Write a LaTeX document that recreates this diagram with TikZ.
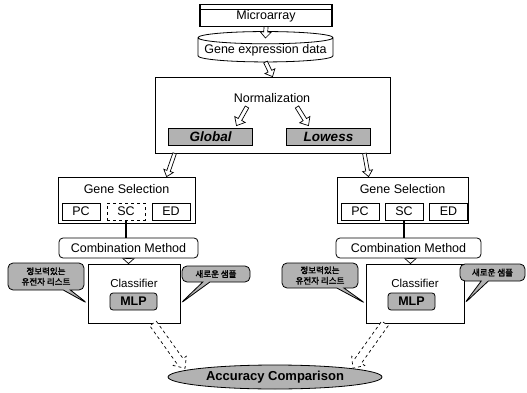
\documentclass[tikz,border=0pt]{standalone}
\usepackage{fontspec}
\setmainfont{Liberation Sans}
\newfontfamily\kofont[AutoFakeBold=2]{Noto Sans CJK KR}
\usetikzlibrary{shapes.geometric, shapes.callouts, calc, positioning}
\definecolor{shade}{RGB}{178,178,178}

\begin{document}
\begin{tikzpicture}[x=1pt, y=-1pt, line width=0.8pt,
    box/.style={draw, fill=white, inner sep=0pt,
                font=\fontsize{12.5}{14}\selectfont},
    method/.style={box, minimum width=38pt, minimum height=17pt},
    shaded/.style={box, fill=shade, minimum width=84pt, minimum height=17pt,
                   font=\fontsize{13.5}{14}\selectfont\bfseries\itshape},
    title/.style={inner sep=1pt, font=\fontsize{12.5}{14}\selectfont},
    bubble/.style={rectangle callout, rounded corners=5pt, draw, fill=shade,
                   inner sep=1pt, align=center,
                   font=\kofont\fontsize{8.5}{10.5}\selectfont\bfseries},
    harrow/.style n args={3}{draw, fill=white, line width=0.7pt,
      to path={let \p1=(\tikztostart), \p2=(\tikztotarget),
        \n1={atan2(\y2-\y1,\x2-\x1)}, \n2={veclen(\x2-\x1,\y2-\y1)-#3} in
        ($(\p1)+({\n1+90}:#1)$) -- ($(\p1)+(\n1:\n2)+({\n1+90}:#1)$)
        -- ($(\p1)+(\n1:\n2)+({\n1+90}:#2)$) -- (\p2)
        -- ($(\p1)+(\n1:\n2)+({\n1-90}:#2)$)
        -- ($(\p1)+(\n1:\n2)+({\n1-90}:#1)$)
        -- ($(\p1)+({\n1-90}:#1)$) -- cycle}},
    link/.style={line width=2.4pt},
]
  \useasboundingbox (0,0) rectangle (527,393);

  % top of the flow
  \node[box, line width=1.1pt, minimum width=132pt, minimum height=22pt,
        text depth=1pt] (mic) at (266,15.5) {Microarray};
  \draw[line width=0.7pt] ([yshift=-5pt]mic.north west) -- ([yshift=-5pt]mic.north east);
  \node[box, cylinder, shape border rotate=90, aspect=0.1,
        minimum width=135pt, minimum height=18pt] (gex) at (265.5,50)
        {Gene expression data};
  \node[box, minimum width=235pt, minimum height=76pt] (norm) at (272.5,115) {};
  \node[title] (normtitle) at (272,98) {Normalization};
  \node[shaded] (glob) at (210.5,136.5) {Global};
  \node[shaded] (low) at (328.5,136.5) {Lowess};

  \draw[harrow={2pt}{5.5pt}{6pt}] ([yshift=-12pt]gex.center) to (norm.north);
  \draw[harrow={2pt}{6pt}{7pt}] ([xshift=-25pt,yshift=-3pt]normtitle.south)
        to ([xshift=26pt,yshift=2pt]glob.north);
  \draw[harrow={2pt}{6pt}{7pt}] ([xshift=25pt,yshift=-3pt]normtitle.south)
        to ([xshift=-20pt,yshift=2pt]low.north);

  % left branch
  \node[box, minimum width=137pt, minimum height=46pt] (gsL) at (126.5,200) {};
  \node[title] (gsLtitle) at (126.5,189) {Gene Selection};
  \node[method] (pcL) at (81,211.5) {PC};
  \node[method, dashed] (scL) at (126,211.5) {SC};
  \node[method] (edL) at (171,211.5) {ED};
  \node[box, rounded corners=4pt, minimum width=139pt, minimum height=20pt]
        (combL) at (128.5,248) {Combination Method};
  \node[box, minimum width=92pt, minimum height=59pt] (clsL) at (134,293.5) {};
  \node[title, font=\fontsize{11.5}{13}\selectfont] (clsLtitle) at (134,283) {Classifier};
  \node[box, fill=shade, rounded corners=3pt, minimum width=47pt,
        minimum height=17pt, font=\fontsize{12.5}{14}\selectfont\bfseries]
        (mlpL) at (133.5,301.5) {MLP};
  \node[bubble, minimum width=76pt, minimum height=27pt,
        callout absolute pointer={([yshift=-10pt]clsL.west)}]
        (genesL) at (46,276.5) {정보력있는\\유전자 리스트};
  \node[bubble, minimum width=68pt, minimum height=16pt,
        callout absolute pointer={([yshift=-10pt]clsL.east)}]
        (sampleL) at (216,274) {새로운 샘플};

  \draw[harrow={1.8pt}{5pt}{6pt}] ([xshift=20pt]norm.south west)
        to ([xshift=109pt]gsL.north west);
  \draw[link] (scL.south) -- (scL.south |- combL.north);
  \draw[harrow={2.6pt}{5.5pt}{5pt}] (combL.south) to (combL.south |- clsL.north);

  % right branch
  \node[box, minimum width=131pt, minimum height=46pt] (gsR) at (402.5,200) {};
  \node[title] (gsRtitle) at (402.5,189) {Gene Selection};
  \node[method] (pcR) at (360,211.5) {PC};
  \node[method] (scR) at (404,211.5) {SC};
  \node[method] (edR) at (448.5,211.5) {ED};
  \node[box, rounded corners=4pt, minimum width=145pt, minimum height=20pt]
        (combR) at (408.5,248) {Combination Method};
  \node[box, minimum width=98pt, minimum height=59pt] (clsR) at (415,293.5) {};
  \node[title, font=\fontsize{11.5}{13}\selectfont] (clsRtitle) at (415,283) {Classifier};
  \node[box, fill=shade, rounded corners=3pt, minimum width=47pt,
        minimum height=17pt, font=\fontsize{12.5}{14}\selectfont\bfseries]
        (mlpR) at (411.5,301.5) {MLP};
  \node[bubble, minimum width=76pt, minimum height=25pt,
        callout absolute pointer={([yshift=-10pt]clsR.west)}]
        (genesR) at (320,275.5) {정보력있는\\유전자 리스트};
  \node[bubble, minimum width=65pt, minimum height=17pt,
        callout absolute pointer={([yshift=-10pt]clsR.east)}]
        (sampleR) at (492.5,272.5) {새로운 샘플};

  \draw[harrow={1.8pt}{5pt}{6pt}] ([xshift=-26pt]norm.south east)
        to ([xshift=32pt]gsR.north west);
  \draw[link] (scR.south) -- (scR.south |- combR.north);
  \draw[harrow={2.6pt}{5.5pt}{5pt}] ([xshift=2pt]combR.south)
        to ([xshift=2pt]combR.south |- clsR.north);

  % comparison
  \node[box, ellipse, fill=shade, minimum width=214pt, minimum height=24pt,
        font=\fontsize{13}{14}\selectfont\bfseries] (acc) at (275,377)
        {Accuracy Comparison};
  \draw[harrow={4pt}{8pt}{9pt}, dashed] ([xshift=19pt]clsL.south)
        to ([xshift=-14pt]acc.north west);
  \draw[harrow={4pt}{8pt}{9pt}, dashed] ([xshift=-30pt]clsR.south)
        to ([xshift=2pt]acc.north east);

  % microarray to data
  \draw[harrow={2pt}{5.5pt}{6pt}] ([yshift=-11pt]mic.center)
        to ([yshift=12pt]gex.center);
\end{tikzpicture}
\end{document}
